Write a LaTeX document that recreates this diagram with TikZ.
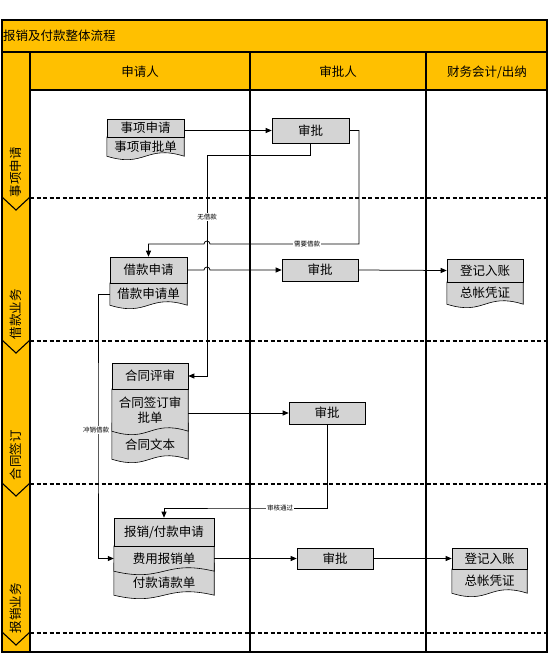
\documentclass[tikz,border=0pt]{standalone}
\usepackage{xcolor}
\usepackage{fontspec}
\usepackage{tikz}
\usetikzlibrary{arrows.meta}
\usetikzlibrary{calc}
\newfontfamily\cjk{Noto Sans CJK SC}
\definecolor{laneyellow}{HTML}{FFC000}
\definecolor{docgray}{HTML}{D4D4D4}
\pgfdeclarelayer{back}
\pgfsetlayers{back,main}
\tikzset{
  part/.style={draw=none, inner sep=0pt, font=\cjk\fontsize{12.5}{15}\selectfont, align=center},
  docbox/.style={part, draw=black, fill=docgray, line width=0.6pt},
  flow/.style={draw=black, line width=0.75pt, -{Triangle[length=6pt,width=5pt]}},
  lbl/.style={fill=white, inner sep=0.6pt, font=\cjk\fontsize{6.5}{7}\selectfont},
  phase/.style={rotate=90, font=\cjk\fontsize{12.5}{14}\selectfont},
  frame/.style={line width=1.2pt},
}
% grey part with a wavy bottom, round a node (#2 lifts the top edge)
\newcommand\wavedoc[2]{\filldraw[fill=docgray, draw=black, line width=0.6pt] ($(#1.north west)+(0,-#2)$) -- ($(#1.north east)+(0,-#2)$) -- (#1.south east) .. controls ($(#1.south)+(0,-12)$) and ($(#1.south)+(0,12)$) .. (#1.south west) -- cycle;}

\begin{document}
\begin{tikzpicture}[x=1pt, y=-1pt]
    \useasboundingbox (0,0) rectangle (554,670);
    % lanes and phases
    \begin{pgfonlayer}{back}
    \fill[white] (0,0) rectangle (554,670);
    \fill[laneyellow] (2,20) rectangle (547,90);
    \fill[laneyellow] (2,90) rectangle (30,652);
    \draw[frame] (2,20) rectangle (547,652);
    \draw[frame] (2,52) -- (547,52);
    \draw[frame] (30,90) -- (547,90);
    \draw[frame] (30,52) -- (30,652);
    \foreach \x in {250,426} {\draw[frame] (\x,52) -- (\x,652);}
    \foreach \y in {198,341,484,633} {\draw[line width=1.6pt, dash pattern=on 4pt off 2.5pt] (30,\y) -- (547,\y); \draw[line width=1.1pt] (2,\y-1) -- (16,\y+12) -- (30,\y-1);}
    \end{pgfonlayer}

    \node[part, anchor=west] (title) at (3,36) {报销及付款整体流程};
    \node[part] (hsq) at (140,72) {申请人};
    \node[part] (hsp) at (338,72) {审批人};
    \node[part] (hcw) at (487,72) {财务会计/出纳};
    \foreach \y/\t [count=\i] in {172/事项申请,314/借款业务,455/合同签订,608/报销业务} {\node[phase] (ph\i) at (16,\y) {\t};}

    % boxes
    \node[docbox, minimum width=77pt, minimum height=18pt] (sxsq) at (145.5,128) {事项申请};
    \node[part, minimum width=77pt, minimum height=19pt] (sxd) at (145.5,146.5) {事项审批单};
    \node[docbox, minimum width=77pt, minimum height=25pt] (sp1) at (310.5,130.5) {审批};
    \node[docbox, minimum width=77pt, minimum height=26pt] (jksq) at (148.5,270) {借款申请};
    \node[part, minimum width=77pt, minimum height=22pt] (jkd) at (148.5,294) {借款申请单};
    \node[docbox, minimum width=76pt, minimum height=22pt] (sp2) at (320,270) {审批};
    \node[docbox, minimum width=76pt, minimum height=23pt] (dj1) at (485,270.5) {登记入账};
    \node[part, minimum width=76pt, minimum height=22pt] (zz1) at (485,293) {总帐凭证};
    \node[docbox, minimum width=76pt, minimum height=26pt] (htps) at (150,376) {合同评审};
    \node[part, minimum width=76pt, minimum height=42pt] (htd) at (150,410) {合同签订审\\批单};
    \node[part, minimum width=76pt, minimum height=28pt] (htwb) at (150,445) {合同文本};
    \node[docbox, minimum width=76pt, minimum height=22pt] (sp3) at (327,413) {审批};
    \node[docbox, minimum width=100pt, minimum height=28pt] (bxsq) at (164,532) {报销/付款申请};
    \node[part, minimum width=100pt, minimum height=25pt] (fyd) at (164,558.5) {费用报销单};
    \node[part, minimum width=100pt, minimum height=24pt] (fkd) at (164,583) {付款请款单};
    \node[docbox, minimum width=76pt, minimum height=21pt] (sp4) at (335,558.5) {审批};
    \node[docbox, minimum width=75pt, minimum height=21pt] (dj2) at (489.5,558.5) {登记入账};
    \node[part, minimum width=75pt, minimum height=24pt] (zz2) at (489.5,581) {总帐凭证};

    \begin{pgfonlayer}{back}
    \wavedoc{sxd}{0}
    \wavedoc{jkd}{0}
    \wavedoc{zz1}{0}
    \wavedoc{htwb}{8}
    \wavedoc{htd}{0}
    \wavedoc{fkd}{8}
    \wavedoc{fyd}{0}
    \wavedoc{zz2}{0}
    \end{pgfonlayer}

    % connectors
    \coordinate (wjk) at (207,155);
    \coordinate (xyjk) at (359,244);
    \coordinate (cxjk) at (98,430);
    \coordinate (shtg) at (250,508);
    \draw[flow] (sxsq.east |- sp1.west) -- (sp1.west);
    \draw[flow] (sp1.south) |- (wjk) |- (htps.east);
    \draw[flow] (sp1.east) -| (xyjk) -- ($(wjk |- xyjk)+(3,0)$) arc[start angle=0, end angle=180, radius=3pt] -| (jksq.north);
    \draw[flow] (jksq.east) -- ($(wjk |- jksq.east)+(-3,0)$) arc[start angle=180, end angle=0, radius=3pt] -- (sp2.west);
    \draw[flow] (sp2.east) -- (dj1.west);
    \draw[flow] (jkd.west) -| (cxjk) |- (fyd.west);
    \draw[flow] (htd.east |- sp3.west) -- (sp3.west);
    \draw[flow] (sp3.south) |- (shtg) -| (bxsq.north);
    \draw[flow] (fyd.east) -- (sp4.west);
    \draw[flow] (sp4.east) -- (dj2.west);
    \node[lbl] (lwjk) at (207,217) {无借款};
    \node[lbl] (lxyjk) at (307,244) {需要借款};
    \node[lbl] (lcxjk) at (96,430) {冲销借款};
    \node[lbl] (lshtg) at (280,508) {审核通过};
\end{tikzpicture}
\end{document}
